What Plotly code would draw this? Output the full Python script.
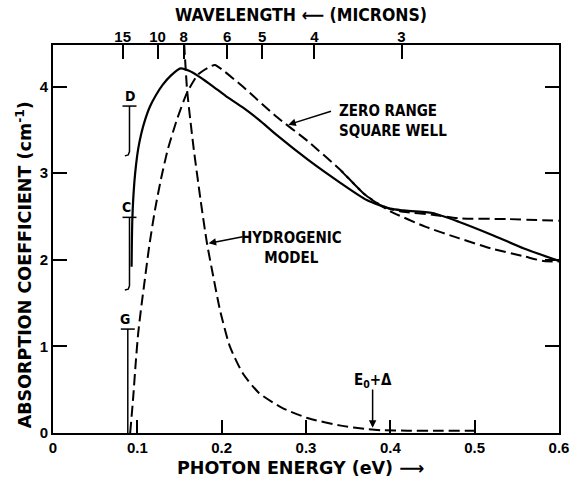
import plotly.graph_objects as go

# ---------------- data ----------------
# experimental absorption (solid)
E_exp = [0.0932, 0.0935, 0.0940, 0.0950, 0.0965, 0.0985, 0.1010, 0.1045, 0.1090, 0.1150,
         0.1220, 0.1300, 0.1400, 0.1515, 0.1620, 0.1710, 0.1800, 0.1900, 0.2050, 0.2250,
         0.2450, 0.2640, 0.3030, 0.3420, 0.3720, 0.4000, 0.4150, 0.4500, 0.4810, 0.5200,
         0.5585, 0.5990]
A_exp = [1.92, 2.20, 2.45, 2.68, 2.90, 3.10, 3.28, 3.45, 3.61, 3.77,
         3.90, 4.02, 4.13, 4.21, 4.18, 4.13, 4.07, 4.00, 3.89, 3.76,
         3.61, 3.45, 3.15, 2.88, 2.69, 2.59, 2.57, 2.54, 2.44, 2.29,
         2.13, 1.99]

# zero range / square well theory (dashed, shared part then two branches)
E_theory = [0.0915, 0.0950, 0.0980, 0.1010, 0.1050, 0.1090, 0.1140, 0.1210, 0.1280, 0.1360,
            0.1470, 0.1590, 0.1720, 0.1860, 0.1920, 0.2000, 0.2250, 0.2640, 0.3020, 0.3415,
            0.3690, 0.3850]
A_theory = [0.00, 0.40, 0.80, 1.15, 1.48, 1.78, 2.15, 2.58, 2.93, 3.27,
            3.62, 3.93, 4.14, 4.23, 4.25, 4.20, 4.00, 3.66, 3.37, 3.03,
            2.76, 2.65]
E_zero_range = [0.400, 0.415, 0.450, 0.481, 0.540, 0.600]
A_zero_range = [2.585, 2.555, 2.52, 2.48, 2.47, 2.45]
E_square_well = [0.400, 0.442, 0.481, 0.520, 0.5585, 0.582, 0.600]
A_square_well = [2.56, 2.38, 2.25, 2.13, 2.04, 1.985, 1.98]

# hydrogenic model (dashed)
E_hyd = [0.1555, 0.1590, 0.1630, 0.1670, 0.1750, 0.1826, 0.1900, 0.1980, 0.2097, 0.2250,
         0.2445, 0.2717, 0.3027, 0.3415, 0.3720, 0.3900, 0.4200, 0.4600, 0.5000]
A_hyd = [4.50, 3.96, 3.60, 3.27, 2.69, 2.19, 1.81, 1.42, 1.00, 0.69,
         0.46, 0.29, 0.17, 0.085, 0.045, 0.032, 0.027, 0.025, 0.025]

# sample ranges D, C, G
sample_names = ["D", "C", "G"]
sample_E = [0.0907, 0.0907, 0.0887]
sample_low = [3.20, 1.65, 0.0]
sample_high = [3.775, 2.49, 1.20]
sample_hook = [True, True, False]

# E0 + Delta marker
E0_delta = 0.379

# axes ticks
x_ticks = [0, 0.1, 0.2, 0.3, 0.4, 0.5, 0.6]
x_ticktext = ["0", "0.1", "0.2", "0.3", "0.4", "0.5", "0.6"]
y_ticks = [0, 1, 2, 3, 4]
wavelengths_um = [15, 10, 8, 6, 5, 4, 3]
HC_EV_UM = 1.2398

# ---------------- figure ----------------
TICKFONT = dict(family="Liberation Sans, Arial, DejaVu Sans", size=15, color="black",
                weight="bold")
TXTFONT = dict(family="DejaVu Sans Condensed, DejaVu Sans", size=15, color="black",
               weight="bold")
TITLEFONT = dict(family="DejaVu Sans Condensed, DejaVu Sans", size=17.5, color="black",
                 weight="bold")
AXTITLEFONT = dict(family="DejaVu Sans", size=17.5, color="black", weight="bold")
DASH = "11px,5px"

fig = go.Figure()

fig.add_trace(go.Scatter(x=E_exp, y=A_exp, mode="lines",
                         line=dict(color="black", width=2.2, shape="spline", smoothing=0.6),
                         showlegend=False, hoverinfo="skip"))
fig.add_trace(go.Scatter(x=E_theory + E_zero_range, y=A_theory + A_zero_range, mode="lines",
                         line=dict(color="black", width=2, dash=DASH, shape="spline",
                                   smoothing=0.6),
                         showlegend=False, hoverinfo="skip"))
fig.add_trace(go.Scatter(x=E_theory[-3:] + E_square_well, y=A_theory[-3:] + A_square_well,
                         mode="lines",
                         line=dict(color="black", width=2, dash=DASH, shape="spline",
                                   smoothing=0.6),
                         showlegend=False, hoverinfo="skip"))
fig.add_trace(go.Scatter(x=E_hyd, y=A_hyd, mode="lines",
                         line=dict(color="black", width=2, dash=DASH, shape="spline",
                                   smoothing=0.6),
                         showlegend=False, hoverinfo="skip"))

# sample bars
for name, e, lo, hi, hook in zip(sample_names, sample_E, sample_low, sample_high, sample_hook):
    if hook:
        xs = [e, e, e - 0.0015, e - 0.0055]
        ys = [hi, lo + 0.05, lo + 0.01, lo]
    else:
        xs = [e, e]
        ys = [hi, lo]
    fig.add_trace(go.Scatter(x=xs, y=ys, mode="lines",
                             line=dict(color="black", width=1.5),
                             showlegend=False, hoverinfo="skip"))
    fig.add_trace(go.Scatter(x=[e], y=[hi], mode="markers",
                             marker=dict(symbol="line-ew", size=10,
                                         line=dict(color="black", width=1.5)),
                             showlegend=False, hoverinfo="skip"))
    fig.add_annotation(x=e, y=hi, text=name, showarrow=False, xanchor="center",
                       yanchor="bottom", xshift=-3 if name != "D" else 1,
                       font=dict(family=TXTFONT["family"], size=14, color="black",
                                 weight="bold"))

# dummy trace to activate top axis
fig.add_trace(go.Scatter(x=[0.3], y=[None], xaxis="x2", mode="lines",
                         showlegend=False, hoverinfo="skip"))

# annotations
fig.add_annotation(x=0.279, y=3.56, ax=0.3314, ay=3.72, axref="x", ayref="y",
                   text="", showarrow=True, arrowhead=2, arrowsize=1, arrowwidth=1.5,
                   arrowcolor="black")
fig.add_annotation(x=0.3372, y=3.60, text="ZERO RANGE<br>SQUARE WELL", showarrow=False,
                   xanchor="left", yanchor="middle", align="left", font=TXTFONT)

fig.add_annotation(x=0.1845, y=2.19, ax=0.2267, ay=2.27, axref="x", ayref="y",
                   text="", showarrow=True, arrowhead=2, arrowsize=1, arrowwidth=1.5,
                   arrowcolor="black")
fig.add_annotation(x=0.283, y=2.14, text="HYDROGENIC<br>MODEL", showarrow=False,
                   xanchor="center", yanchor="middle", align="center", font=TXTFONT)

fig.add_annotation(x=E0_delta, y=0.06, ax=E0_delta, ay=0.52, axref="x", ayref="y",
                   text="", showarrow=True, arrowhead=2, arrowsize=1, arrowwidth=1.5,
                   arrowcolor="black")
fig.add_annotation(x=E0_delta, y=0.61, text="E<sub>0</sub>+Δ", showarrow=False,
                   xanchor="center", yanchor="middle", font=TXTFONT)

# axis titles
fig.add_annotation(x=0.490, y=-0.09, xref="paper", yref="paper",
                   text="PHOTON ENERGY (eV) ⟶", showarrow=False,
                   xanchor="center", yanchor="middle", font=AXTITLEFONT)
fig.add_annotation(x=0.490, y=1.077, xref="paper", yref="paper",
                   text="WAVELENGTH ⟵ (MICRONS)", showarrow=False,
                   xanchor="center", yanchor="middle", font=TITLEFONT)
fig.add_annotation(x=-0.058, y=0.434, xref="paper", yref="paper",
                   text="ABSORPTION COEFFICIENT (cm<sup>-1</sup>)", showarrow=False,
                   textangle=-90, xanchor="center", yanchor="middle", font=AXTITLEFONT)

fig.update_layout(
    width=580, height=479,
    margin=dict(l=53, r=11, t=45, b=46),
    paper_bgcolor="white", plot_bgcolor="white",
    showlegend=False,
    xaxis=dict(range=[0, 0.6], tickvals=x_ticks, ticktext=x_ticktext,
               ticks="inside", ticklen=13, tickwidth=1.5, tickcolor="black",
               showline=True, linecolor="black", linewidth=1.8, mirror=False,
               showgrid=False, zeroline=False, tickfont=TICKFONT),
    xaxis2=dict(range=[0, 0.6], overlaying="x", side="top",
                tickvals=[HC_EV_UM / w for w in wavelengths_um],
                ticktext=[str(w) for w in wavelengths_um],
                ticks="inside", ticklen=14, tickwidth=1.5, tickcolor="black",
                showline=True, linecolor="black", linewidth=1.8,
                ticklabelstandoff=-5,
                showgrid=False, zeroline=False, tickfont=TICKFONT),
    yaxis=dict(range=[0, 4.48], tickvals=y_ticks,
               ticks="inside", ticklen=14, tickwidth=1.5, tickcolor="black",
               showline=True, linecolor="black", linewidth=1.8, mirror="ticks",
               showgrid=False, zeroline=False, tickfont=TICKFONT),
)

fig.write_html("out.html")
